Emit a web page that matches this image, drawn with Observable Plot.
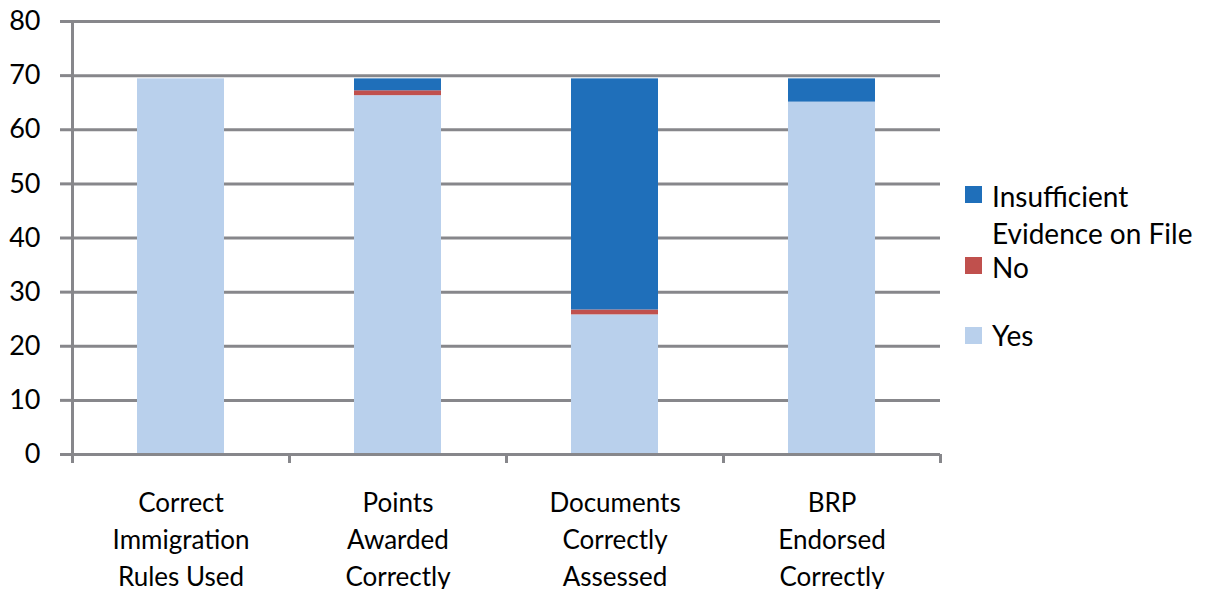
<!DOCTYPE html>
<html>
<head>
<meta charset="utf-8">
<script src="https://cdn.jsdelivr.net/npm/d3@7"></script>
<script src="https://cdn.jsdelivr.net/npm/@observablehq/plot@0.6"></script>
<style>
  html, body { margin: 0; padding: 0; background: #fff; }
  #wrap { position: relative; width: 1208px; height: 589px; font-family: Lato, "Open Sans", sans-serif; }
  .sw { position: absolute; width: 17px; height: 17px; }
  .lt { position: absolute; font-size: 28px; line-height: 37px; color: #000; white-space: pre; }
</style>
</head>
<body>
<div id="wrap"></div>
<script>
const categories = ["Correct Immigration Rules Used", "Points Awarded Correctly", "Documents Correctly Assessed", "BRP Endorsed Correctly"];
const categoryLines = ["Correct\nImmigration\nRules Used", "Points\nAwarded\nCorrectly", "Documents\nCorrectly\nAssessed", "BRP\nEndorsed\nCorrectly"];
const series = ["Yes", "No", "Insufficient Evidence on File"];
const seriesColors = ["#B9D0EC", "#C0504D", "#1F6FBA"];
const yes = [69.4, 66.3, 25.8, 65.1];
const no = [0, 0.9, 0.9, 0];
const insufficient = [0, 2.2, 42.7, 4.3];
const yTicks = [0, 10, 20, 30, 40, 50, 60, 70, 80];

const valuesBySeries = [yes, no, insufficient];
const rows = [];
categories.forEach((c, i) => {
  series.forEach((s, j) => rows.push({category: c, series: s, value: valuesBySeries[j][i]}));
});

const gray = "#87878B";
const step = (940 - 72) / categories.length;

const chart = Plot.plot({
  width: 1208,
  height: 589,
  marginLeft: 72,
  marginRight: 268,
  marginTop: 21,
  marginBottom: 135,
  style: {fontFamily: "Lato, 'Open Sans', sans-serif", fontSize: "26px", background: "#fff", color: "#000"},
  x: {domain: categories, paddingInner: 0.6, paddingOuter: 0.3, axis: null},
  y: {domain: [0, 80], axis: null},
  color: {domain: series, range: seriesColors},
  marks: [
    Plot.gridY(yTicks, {stroke: gray, strokeOpacity: 1, strokeWidth: 3}),
    Plot.barY(rows, {x: "category", y: "value", fill: "series", order: series}),
    Plot.axisY(yTicks, {tickSize: 12, tickPadding: 20, stroke: gray, strokeWidth: 3, fontSize: 27, fill: "#000", label: null, tickFormat: d => String(d)}),
    Plot.frame({anchor: "left", stroke: gray, strokeWidth: 3}),
    Plot.ruleY([0], {stroke: gray, strokeWidth: 3}),
    Plot.axisX(categories, {tickSize: 9, stroke: gray, strokeWidth: 3, dx: -step / 2, tickFormat: null, text: null, label: null}),
    Plot.axisX([categories[categories.length - 1]], {tickSize: 9, stroke: gray, strokeWidth: 3, dx: step / 2, tickFormat: null, text: null, label: null}),
    Plot.axisX(categories, {tickSize: 0, tickPadding: 31, fontSize: 26, lineHeight: 1.42, fill: "#000", label: null, tickFormat: d => categoryLines[categories.indexOf(d)]})
  ]
});

const wrap = document.getElementById("wrap");
chart.style.position = "absolute";
chart.style.left = "0";
chart.style.top = "0";
wrap.appendChild(chart);

// Legend (HTML), top-to-bottom in reverse series order
const legendItems = [
  {label: "Insufficient\nEvidence on File", color: seriesColors[2], swTop: 186, textTop: 178},
  {label: "No", color: seriesColors[1], swTop: 257, textTop: 249},
  {label: "Yes", color: seriesColors[0], swTop: 327, textTop: 317}
];
legendItems.forEach(it => {
  const sw = document.createElement("div");
  sw.className = "sw";
  sw.style.left = "965px";
  sw.style.top = it.swTop + "px";
  sw.style.background = it.color;
  wrap.appendChild(sw);
  const t = document.createElement("div");
  t.className = "lt";
  t.style.left = "992px";
  t.style.top = it.textTop + "px";
  t.textContent = it.label;
  wrap.appendChild(t);
});
</script>
</body>
</html>
